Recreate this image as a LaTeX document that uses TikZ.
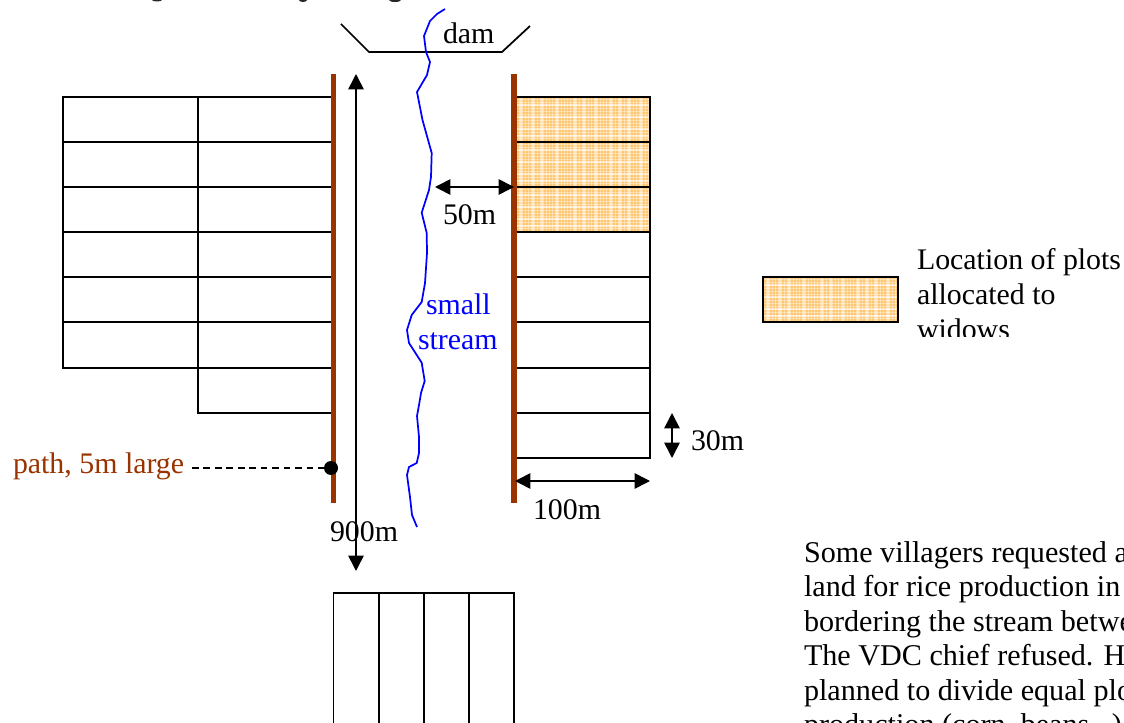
\documentclass[tikz,border=0pt]{standalone}
\usepackage{fontspec}
\setmainfont{Liberation Serif}
\usetikzlibrary{arrows.meta}
\definecolor{roadbrown}{HTML}{993300}
\definecolor{plotorange}{HTML}{FFC670}
\definecolor{streamblue}{HTML}{0000FF}
\tikzset{
  x=0.75pt,y=-0.75pt,
  plotline/.style={draw=black,line width=1.4pt},
  road/.style={draw=roadbrown,line width=3.9pt},
  stream/.style={draw=streamblue,line width=1.3pt,line join=round},
  dim/.style={draw=black,line width=1.2pt,{Triangle[length=11.5pt,width=11.5pt]}-{Triangle[length=11.5pt,width=11.5pt]}},
  label/.style={anchor=base west,inner sep=0pt,outer sep=0pt,font=\fontsize{22.4}{26}\selectfont},
  storyline/.style={anchor=base west,inner sep=0pt,outer sep=0pt,font=\fontsize{22.6}{26}\selectfont},
}
\newcommand{\plaidfill}[4]{%
  \begin{scope}
    \clip (#1,#2) rectangle (#3,#4);
    \fill[plotorange] (#1,#2) rectangle (#3,#4);
    \foreach \k in {0,3,...,135}{
      \draw[white,opacity=.38,line width=.75pt] (#1+\k,#2) -- (#1+\k,#4);
    }
    \foreach \k in {0,3,...,45}{
      \draw[white,opacity=.38,line width=.75pt] (#1,#2+\k) -- (#3,#2+\k);
    }
    \foreach \k in {5,17,26,41,59,68,80,95,104,113,125}{
      \draw[white,opacity=.55,line width=.8pt] (#1+\k,#2) -- (#1+\k,#4);
    }
    \foreach \k in {8,20,32,39}{
      \draw[white,opacity=.55,line width=.8pt] (#1,#2+\k) -- (#3,#2+\k);
    }
  \end{scope}}
\begin{document}
\begin{tikzpicture}
\clip (0,0) rectangle (1124,723);
\fill[white] (0,0) rectangle (1124,723);

% clipped remains of the title
\fill[black!85] (157,0) ellipse (5 and 1.5);
\fill[black!85] (303,0) ellipse (4 and 2);
\fill[black!85] (395,0) ellipse (6 and 2);

% shaded plots
\plaidfill{516}{97}{650}{142}
\plaidfill{516}{142}{650}{187}
\plaidfill{516}{187}{650}{232}
\plaidfill{763}{277}{898}{322}

% left plots
\draw[plotline] (63,97) rectangle (198,368);
\draw[plotline] (198,97) -- (333,97) (198,97) -- (198,413) -- (333,413);
\foreach \y in {142,187,232,277,322,368}{
  \draw[plotline] (63,\y) -- (333,\y);
}

% right plots
\draw[plotline] (515,97) -- (650,97) -- (650,458) -- (515,458);
\foreach \y in {142,187,232,277,322,368,413}{
  \draw[plotline] (515,\y) -- (650,\y);
}

% legend box
\draw[plotline] (763,277) rectangle (898,322);

% bottom plots
\draw[plotline] (333.5,730) -- (333.5,593) -- (514,593) -- (514,730);
\foreach \x in {379,424,469}{
  \draw[plotline] (\x,593) -- (\x,730);
}

% dam
\draw[draw=black,line width=1.3pt] (341,24) -- (369,52) -- (502,52) -- (530,26);

% stream
\draw[stream] (445,9) -- (437,14) -- (430,21) -- (424,36) -- (426,52) -- (430,62) -- (427,75) -- (417,92)
  -- (422.5,120) -- (431.7,153) -- (431,177) -- (429,190) -- (421.7,212.7) -- (426.7,233) -- (427,253)
  -- (425,283) -- (421.7,302) -- (411.7,315) -- (407,330) -- (409,343) -- (421.7,362.7) -- (424.7,381)
  -- (421,393) -- (419,405) -- (417,416) -- (419,437) -- (419,453) -- (416.7,463) -- (409,467) -- (407,475)
  -- (410,497) -- (412,515) -- (417,527);

% paths
\coordinate (roadLtop) at (333.5,74);
\coordinate (roadLbot) at (333.5,503);
\coordinate (roadRtop) at (514,74);
\coordinate (roadRbot) at (514,503);
\draw[road] (roadLtop) -- (roadLbot);
\draw[road] (roadRtop) -- (roadRbot);

% dimensions
\coordinate (lenTop) at (356,74);
\coordinate (lenBot) at (356,571);
\draw[dim] (lenTop) -- (lenBot);
\coordinate (gapL) at (435,187);
\coordinate (gapR) at (514,187);
\draw[dim] (gapL) -- (gapR);
\coordinate (wideL) at (515,481);
\coordinate (wideR) at (650,481);
\draw[dim] (wideL) -- (wideR);
\coordinate (highT) at (672,413);
\coordinate (highB) at (672,458);
\draw[dim] (highT) -- (highB);

% path marker
\node[circle,fill=black,inner sep=0pt,minimum size=10.5pt] (pathdot) at (331,468) {};
\coordinate (pathstart) at (192,468);
\draw[black,line width=.9pt,dash pattern=on 5pt off 3.6pt] (pathstart) -- (pathdot);

% labels
\node[label] (damlab) at (443,44) {dam};
\node[label] (lab50) at (443,225) {50m};
\node[label,text=streamblue] (smalllab) at (426,315) {small};
\node[label,text=streamblue] (streamlab) at (418,350) {stream};
\node[label,text=roadbrown] (pathlab) at (13,473) {path, 5m large};
\node[label] (lab900) at (330,541) {900m};
\node[label] (lab100) at (533,519) {100m};
\node[label] (lab30) at (691,450) {30m};

% legend text
\node[label] (leg1) at (917,270) {Location of plots};
\node[label] (leg2) at (917,305) {allocated to};
\begin{scope}
  \clip (900,310) rectangle (1124,337);
  \node[label] (leg3) at (917,340) {widows};
\end{scope}

% story text (runs off the page)
\node[storyline] (st1) at (804,562) {Some villagers requested additional};
\node[storyline] (st2) at (804,596) {land for rice production in the area};
\node[storyline] (st3) at (804,631) {bordering the stream between the paths.};
\node[storyline] (st4) at (804,665) {The VDC chief refused. He};
\node[storyline] (st5) at (804,700) {planned to divide equal plots};
\node[storyline] (st6) at (804,734) {production (corn, beans...)};
\end{tikzpicture}
\end{document}
